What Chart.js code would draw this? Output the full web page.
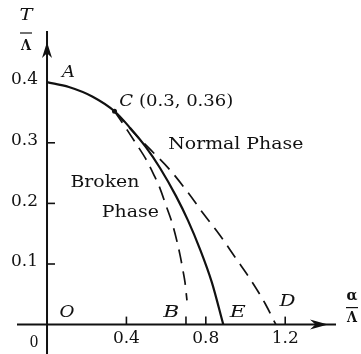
<!DOCTYPE html>
<html>
<head>
<meta charset="utf-8">
<script src="https://cdn.jsdelivr.net/npm/chart.js@4.4.1/dist/chart.umd.min.js"></script>
<style>
  html, body { margin: 0; padding: 0; background: #fff; }
  #wrap { width: 361px; height: 354px; position: relative; }
</style>
</head>
<body>
<div id="wrap"><canvas id="c"></canvas></div>
<script>
// ---- data (x = α/Λ, y = T/Λ) ----
const solidX = [0, 0.11, 0.23, 0.34, 0.42, 0.50, 0.57, 0.65, 0.71, 0.77, 0.83, 0.888];
const solidY = [0.40, 0.392, 0.376, 0.352, 0.324, 0.292, 0.258, 0.212, 0.172, 0.125, 0.070, 0];
const innerX = [0.34, 0.41, 0.45, 0.50, 0.54, 0.57, 0.60, 0.63, 0.655, 0.67, 0.685, 0.695, 0.705];
const innerY = [0.352, 0.318, 0.298, 0.272, 0.246, 0.224, 0.196, 0.168, 0.137, 0.115, 0.089, 0.070, 0.040];
const outerX = [0.34, 0.45, 0.52, 0.62, 0.71, 0.79, 0.87, 0.95, 1.03, 1.10, 1.153];
const outerY = [0.352, 0.312, 0.289, 0.255, 0.218, 0.182, 0.148, 0.110, 0.072, 0.034, 0];
const pointC = [0.34, 0.352];

const xTickMarks = [0.4, 0.7, 0.8, 1.2];
const xTickValues = [0.4, 0.8, 1.2];
const xTickLabels = ['0.4', '0.8', '1.2'];
const yTickMarks = [0.1, 0.2, 0.3];
const yTickValues = [0.1, 0.2, 0.3, 0.4];
const yTickLabels = ['0.1', '0.2', '0.3', '0.4'];

const annotationTexts = ['A', 'C (0.3, 0.36)', 'Normal Phase', 'Broken', 'Phase', 'O', 'B', 'E', 'D'];
const annotationX = [0.108, 0.3645, 0.611, 0.118, 0.276, 0.101, 0.626, 0.961, 1.212];
const annotationY = [0.416, 0.3677, 0.297, 0.234, 0.184, 0.020, 0.019, 0.019, 0.037];

function pts(xs, ys) { return xs.map((x, i) => ({ x: x, y: ys[i] })); }

// ---- styles ----
const SERIF = '"DejaVu Serif", "Liberation Serif", serif';
const annStyle = [
  { font: 'italic 16px ' + SERIF, align: 'center', w: 13 },
  { font: '16px ' + SERIF, align: 'left', w: 114, italicFirst: true },
  { font: '16px ' + SERIF, align: 'left', w: 135 },
  { font: '16px ' + SERIF, align: 'left', w: 69 },
  { font: '16px ' + SERIF, align: 'left', w: 57 },
  { font: 'italic 16px ' + SERIF, align: 'center', w: 15 },
  { font: 'italic 16px ' + SERIF, align: 'center', w: 16 },
  { font: 'italic 16px ' + SERIF, align: 'center', w: 16 },
  { font: 'italic 16px ' + SERIF, align: 'center', w: 16 }
];

function fitText(ctx, txt, x, y, font, align, w) {
  ctx.save();
  ctx.font = font;
  ctx.textBaseline = 'middle';
  const m = ctx.measureText(txt).width;
  const sx = w ? w / m : 1;
  let left = x;
  if (align === 'center') left = x - m * sx / 2;
  else if (align === 'right') left = x - m * sx;
  ctx.translate(left, y);
  ctx.scale(sx, 1);
  ctx.textAlign = 'left';
  ctx.fillText(txt, 0, 0);
  ctx.restore();
}

function arrowHead(ctx, tipX, tipY, dir, len, half) {
  ctx.beginPath();
  if (dir === 'up') {
    ctx.moveTo(tipX, tipY);
    ctx.lineTo(tipX - half, tipY + len);
    ctx.lineTo(tipX, tipY + len * 0.7);
    ctx.lineTo(tipX + half, tipY + len);
  } else {
    ctx.moveTo(tipX, tipY);
    ctx.lineTo(tipX - len, tipY - half);
    ctx.lineTo(tipX - len * 0.7, tipY);
    ctx.lineTo(tipX - len, tipY + half);
  }
  ctx.closePath();
  ctx.fill();
}

const axesPlugin = {
  id: 'axesPlugin',
  beforeDatasetsDraw(chart) {
    const ctx = chart.ctx;
    const xs = chart.scales.x, ys = chart.scales.y;
    const x0 = xs.getPixelForValue(0), y0 = ys.getPixelForValue(0);
    ctx.save();
    ctx.strokeStyle = '#111';
    ctx.fillStyle = '#111';
    ctx.lineWidth = 2;
    // y axis
    ctx.beginPath();
    ctx.moveTo(x0, chart.height);
    ctx.lineTo(x0, 31);
    ctx.stroke();
    arrowHead(ctx, x0, 42, 'up', 16, 5);
    // x axis
    ctx.beginPath();
    ctx.moveTo(17, y0);
    ctx.lineTo(336, y0);
    ctx.stroke();
    arrowHead(ctx, 328, y0, 'right', 18, 5);
    // ticks
    ctx.lineWidth = 1.6;
    xTickMarks.forEach(v => {
      const p = xs.getPixelForValue(v);
      ctx.beginPath(); ctx.moveTo(p, y0); ctx.lineTo(p, y0 - 8); ctx.stroke();
    });
    yTickMarks.forEach(v => {
      const p = ys.getPixelForValue(v);
      ctx.beginPath(); ctx.moveTo(x0, p); ctx.lineTo(x0 + 8, p); ctx.stroke();
    });
    // tick labels
    xTickValues.forEach((v, i) => {
      fitText(ctx, xTickLabels[i], xs.getPixelForValue(v), y0 + 14, '16px ' + SERIF, 'center', 27);
    });
    yTickValues.forEach((v, i) => {
      fitText(ctx, yTickLabels[i], x0 - 9, ys.getPixelForValue(v) - 2, '16px ' + SERIF, 'right', 27);
    });
    fitText(ctx, '0', x0 - 13, y0 + 18, '16px ' + SERIF, 'center', 9);
    // axis titles
    fitText(ctx, 'T', x0 - 21, 16, 'italic 17px ' + SERIF, 'center', 13);
    ctx.lineWidth = 1.2;
    ctx.beginPath(); ctx.moveTo(x0 - 27, 33); ctx.lineTo(x0 - 15, 33); ctx.stroke();
    fitText(ctx, 'Λ', x0 - 21, 46, 'bold 15px ' + SERIF, 'center', 10);
    fitText(ctx, 'α', 352, y0 - 28, 'bold 15px ' + SERIF, 'center', 11);
    ctx.beginPath(); ctx.moveTo(346, y0 - 17); ctx.lineTo(358, y0 - 17); ctx.stroke();
    fitText(ctx, 'Λ', 352, y0 - 6, 'bold 14px ' + SERIF, 'center', 10);
    // annotations
    annotationTexts.forEach((t, i) => {
      const st = annStyle[i];
      const px = xs.getPixelForValue(annotationX[i]);
      const py = ys.getPixelForValue(annotationY[i]);
      if (st.italicFirst) {
        ctx.save();
        ctx.font = '16px ' + SERIF;
        const restW = ctx.measureText(t.slice(1)).width;
        ctx.font = 'italic 16px ' + SERIF;
        const cW = ctx.measureText('C').width;
        ctx.restore();
        const sx = st.w / (restW + cW);
        fitText(ctx, 'C', px, py, 'italic 16px ' + SERIF, 'left', cW * sx);
        fitText(ctx, t.slice(1), px + cW * sx, py, '16px ' + SERIF, 'left', restW * sx);
      } else {
        fitText(ctx, t, px, py, st.font, st.align, st.w);
      }
    });
    ctx.restore();
  }
};

new Chart(document.getElementById('c'), {
  type: 'scatter',
  data: {
    datasets: [
      { data: pts(solidX, solidY), showLine: true, borderColor: '#111', borderWidth: 2.2,
        pointRadius: 0, cubicInterpolationMode: 'monotone', fill: false },
      { data: pts(innerX, innerY), showLine: true, borderColor: '#111', borderWidth: 1.7,
        borderDash: [14, 8], pointRadius: 0, cubicInterpolationMode: 'monotone', fill: false },
      { data: pts(outerX, outerY), showLine: true, borderColor: '#111', borderWidth: 1.7,
        borderDash: [14, 8], pointRadius: 0, cubicInterpolationMode: 'monotone', fill: false },
      { data: [{ x: pointC[0], y: pointC[1] }], showLine: false, pointRadius: 2.5,
        pointBackgroundColor: '#111', pointBorderWidth: 0 }
    ]
  },
  options: {
    responsive: true,
    maintainAspectRatio: false,
    devicePixelRatio: 1,
    animation: false,
    layout: { padding: 0 },
    plugins: { legend: { display: false }, tooltip: { enabled: false } },
    scales: {
      x: { type: 'linear', display: false, min: -0.2167, max: 1.5616 },
      y: { type: 'linear', display: false, min: -0.0419, max: 0.529 }
    }
  },
  plugins: [axesPlugin]
});
</script>
</body>
</html>
